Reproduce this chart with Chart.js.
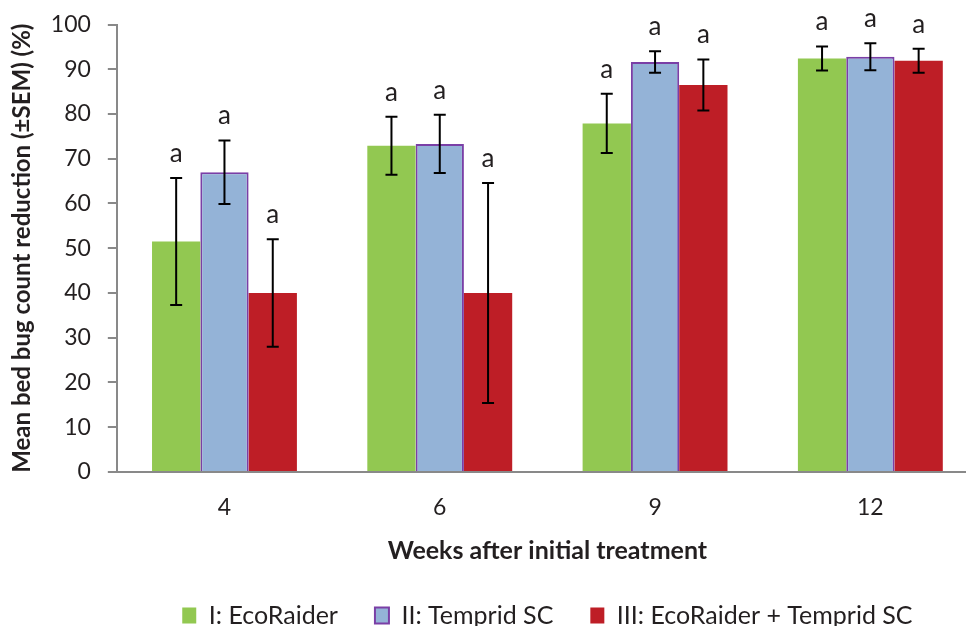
<!DOCTYPE html>
<html>
<head>
<meta charset="utf-8">
<script src="https://cdn.jsdelivr.net/npm/chart.js@4.4.0/dist/chart.umd.min.js"></script>
<style>
  html, body { margin: 0; padding: 0; background: #fff; overflow: hidden; }
  #wrap { width: 980px; height: 626px; }
</style>
</head>
<body>
<div id="wrap"><canvas id="reductionChart"></canvas></div>
<script>
// Chart data
const weeks = ['4', '6', '9', '12'];
const ecoRaider = [51.5, 72.9, 77.9, 92.4];
const tempridSC = [67.0, 73.3, 91.6, 92.8];
const ecoTemprid = [40.0, 40.0, 86.5, 91.9];
const ecoRaiderSem = [14.2, 6.5, 6.6, 2.7];
const tempridSem = [7.1, 6.5, 2.4, 3.0];
const ecoTempridSem = [12.0, 24.6, 5.7, 2.7];
const ecoRaiderLetters = ['a', 'a', 'a', 'a'];
const tempridLetters = ['a', 'a', 'a', 'a'];
const ecoTempridLetters = ['a', 'a', 'a', 'a'];
const yTicks = [0, 10, 20, 30, 40, 50, 60, 70, 80, 90, 100];

const fontFamily = 'Lato, "Open Sans", sans-serif';
const textColor = '#231f20';
const axisColor = '#898989';

Chart.defaults.font.family = fontFamily;
Chart.defaults.color = textColor;

// Error bars and significance letters drawn on top of the bars
const errorBarPlugin = {
  id: 'errorBars',
  afterDatasetsDraw(chart) {
    const ctx = chart.ctx;
    const yScale = chart.scales.y;
    chart.data.datasets.forEach((ds, i) => {
      const meta = chart.getDatasetMeta(i);
      meta.data.forEach((bar, j) => {
        const val = ds.data[j];
        const sem = ds.sem[j];
        const top = yScale.getPixelForValue(val + sem);
        const low = yScale.getPixelForValue(val - sem);
        ctx.save();
        ctx.strokeStyle = '#000';
        ctx.lineWidth = 2;
        ctx.beginPath();
        ctx.moveTo(bar.x, top);
        ctx.lineTo(bar.x, low);
        ctx.moveTo(bar.x - 6, top);
        ctx.lineTo(bar.x + 6, top);
        ctx.moveTo(bar.x - 6, low);
        ctx.lineTo(bar.x + 6, low);
        ctx.stroke();
        ctx.fillStyle = textColor;
        ctx.font = '26px ' + fontFamily;
        ctx.textAlign = 'center';
        ctx.textBaseline = 'alphabetic';
        ctx.fillText(ds.letters[j], bar.x, top - 16);
        ctx.restore();
      });
    });
  }
};

// Center the legend under the plot area instead of the whole canvas
const legendCenterPlugin = {
  id: 'legendCenter',
  beforeDraw(chart) {
    if (chart.legend) {
      chart.legend.left = chart.chartArea.left;
      chart.legend.right = chart.chartArea.right;
    }
  }
};

new Chart(document.getElementById('reductionChart'), {
  type: 'bar',
  data: {
    labels: weeks,
    datasets: [{
      label: 'I: EcoRaider',
      data: ecoRaider,
      sem: ecoRaiderSem,
      letters: ecoRaiderLetters,
      backgroundColor: '#92c851',
      borderWidth: 0
    }, {
      label: 'II: Temprid SC',
      data: tempridSC,
      sem: tempridSem,
      letters: tempridLetters,
      backgroundColor: '#94b3d7',
      borderColor: '#7a3fa6',
      borderWidth: 2
    }, {
      label: 'III: EcoRaider + Temprid SC',
      data: ecoTemprid,
      sem: ecoTempridSem,
      letters: ecoTempridLetters,
      backgroundColor: '#be1e26',
      borderWidth: 0
    }]
  },
  options: {
    responsive: true,
    maintainAspectRatio: false,
    animation: false,
    categoryPercentage: 0.673,
    barPercentage: 1.0,
    layout: {
      padding: { top: 0, right: 2, left: 8, bottom: -12 }
    },
    plugins: {
      legend: {
        position: 'bottom',
        labels: {
          boxWidth: 14,
          boxHeight: 16,
          padding: 37,
          color: textColor,
          font: { size: 25 }
        }
      },
      tooltip: { enabled: false }
    },
    scales: {
      y: {
        min: 0,
        max: 100,
        afterBuildTicks: function(scale) {
          scale.ticks = yTicks.map(v => ({ value: v }));
        },
        afterFit: function(scale) {
          // keep the top of the axis close to the canvas edge
          scale.paddingTop = 24.5;
          scale.paddingBottom = 14;
        },
        ticks: {
          padding: 17,
          color: textColor,
          font: { size: 23 }
        },
        grid: {
          drawOnChartArea: false,
          drawTicks: true,
          tickLength: 9,
          color: axisColor,
          lineWidth: 2
        },
        border: { color: axisColor, width: 2 },
        title: {
          display: true,
          text: 'Mean bed bug count reduction (±SEM) (%)',
          color: textColor,
          font: { size: 24, weight: 'bold' },
          padding: { top: 0, bottom: -3 }
        }
      },
      x: {
        ticks: {
          padding: 21.5,
          color: textColor,
          font: { size: 23 }
        },
        grid: {
          display: false,
          drawTicks: false
        },
        border: { color: axisColor, width: 2 },
        title: {
          display: true,
          text: 'Weeks after initial treatment',
          color: textColor,
          font: { size: 25, weight: 'bold' },
          padding: { top: -6.5, bottom: 0 }
        }
      }
    }
  },
  plugins: [errorBarPlugin, legendCenterPlugin]
});
</script>
</body>
</html>
